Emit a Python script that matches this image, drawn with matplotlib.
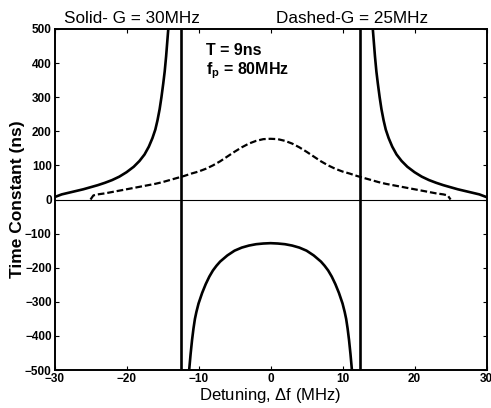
import numpy as np
import matplotlib.pyplot as plt

plt.rcParams['font.family'] = ['Liberation Sans', 'DejaVu Sans']
plt.rcParams['mathtext.fontset'] = 'custom'
plt.rcParams['mathtext.bf'] = 'Liberation Sans:bold'
plt.rcParams['mathtext.rm'] = 'Liberation Sans'

# solid curve (G = 30MHz), outer branch, read for positive detuning (mirrored)
solid_out_x = [14.2, 14.35, 14.5, 14.7, 14.9, 15.15, 15.4, 15.7, 16.0, 16.4, 16.9, 17.5, 18.2,
               19.0, 20.0, 21.0, 22.0, 23.0, 24.0, 25.0, 26.0, 27.0, 28.0, 29.0, 30.0]
solid_out_y = [500, 460, 420, 375, 340, 300, 265, 232, 205, 180, 155, 132, 113,
               96, 80, 67, 57, 49, 42, 36, 30, 25, 20, 15, 7]

# solid curve, inner (negative) branch
solid_in_x = [0, 1.0, 2.0, 3.0, 4.0, 5.0, 6.0, 7.0, 7.5, 8.0, 8.5, 9.0, 9.5, 10.0,
              10.3, 10.5, 10.7, 10.9, 11.1, 11.3]
solid_in_y = [-128, -129, -131, -135, -141, -150, -164, -182, -194, -208, -226, -248, -274, -305,
              -330, -350, -378, -412, -453, -500]

# dashed curve (G = 25MHz)
dashed_x = [0, 1, 2, 3, 4, 5, 6, 7, 8, 9, 10, 11, 12, 13, 14, 15, 16, 17, 18, 19, 20,
            21, 22, 23, 24, 24.6, 25.0]
dashed_y = [178, 177, 172, 164, 153, 140, 126, 112, 100, 90, 82, 76, 69, 63, 57, 51, 46, 42, 38, 34, 30,
            26, 22, 18, 15, 12, 0]

asymptote = 12.45

xticks = [-30, -20, -10, 0, 10, 20, 30]
yticks = [-500, -400, -300, -200, -100, 0, 100, 200, 300, 400, 500]


def mirror(x, y):
    # symmetric curve: values read for x >= 0, first point at x = 0
    x = np.asarray(x, float)
    y = np.asarray(y, float)
    return np.concatenate([-x[:0:-1], x]), np.concatenate([y[:0:-1], y])


fig = plt.figure(figsize=(4.91, 4.08), dpi=100)
ax = fig.add_axes([0.111, 0.093, 0.880, 0.836])

lw = 1.9
ax.plot(-np.asarray(solid_out_x), solid_out_y, color='black', lw=lw)
ax.plot(solid_out_x, solid_out_y, color='black', lw=lw)
xi, yi = mirror(solid_in_x, solid_in_y)
ax.plot(xi, yi, color='black', lw=lw)
ax.axvline(-asymptote, color='black', lw=lw)
ax.axvline(asymptote, color='black', lw=lw)

xd, yd = mirror(dashed_x, dashed_y)
ax.plot(xd, yd, color='black', lw=1.6, dashes=(3, 1.3))

ax.axhline(0, color='black', lw=0.8)

ax.set_xlim(-30, 30)
ax.set_ylim(-500, 500)
ax.set_xticks(xticks)
ax.set_yticks(yticks)
ax.tick_params(direction='in', top=True, right=True, length=3, width=0.8, pad=2)
for lab in ax.get_xticklabels() + ax.get_yticklabels():
    lab.set_fontweight('bold')
    lab.set_fontsize(8.5)
for s in ax.spines.values():
    s.set_linewidth(1.4)

ax.set_xlabel(r'Detuning, $\Delta$f (MHz)', fontsize=12, labelpad=1)
ax.set_ylabel('Time Constant (ns)', fontsize=12.5, fontweight='bold', labelpad=0)

fig.text(64 / 491, 1 - 23 / 408, 'Solid- G = 30MHz', fontsize=12.3)
fig.text(276 / 491, 1 - 23 / 408, 'Dashed-G = 25MHz', fontsize=12.3)

ax.text(-9.0, 437, 'T = 9ns', fontsize=11.5, fontweight='bold', va='center')
ax.text(-9.0, 378, r'f$_{\mathbf{p}}$ = 80MHz', fontsize=11.5, fontweight='bold', va='center')

fig.savefig('out.png', dpi=100)
